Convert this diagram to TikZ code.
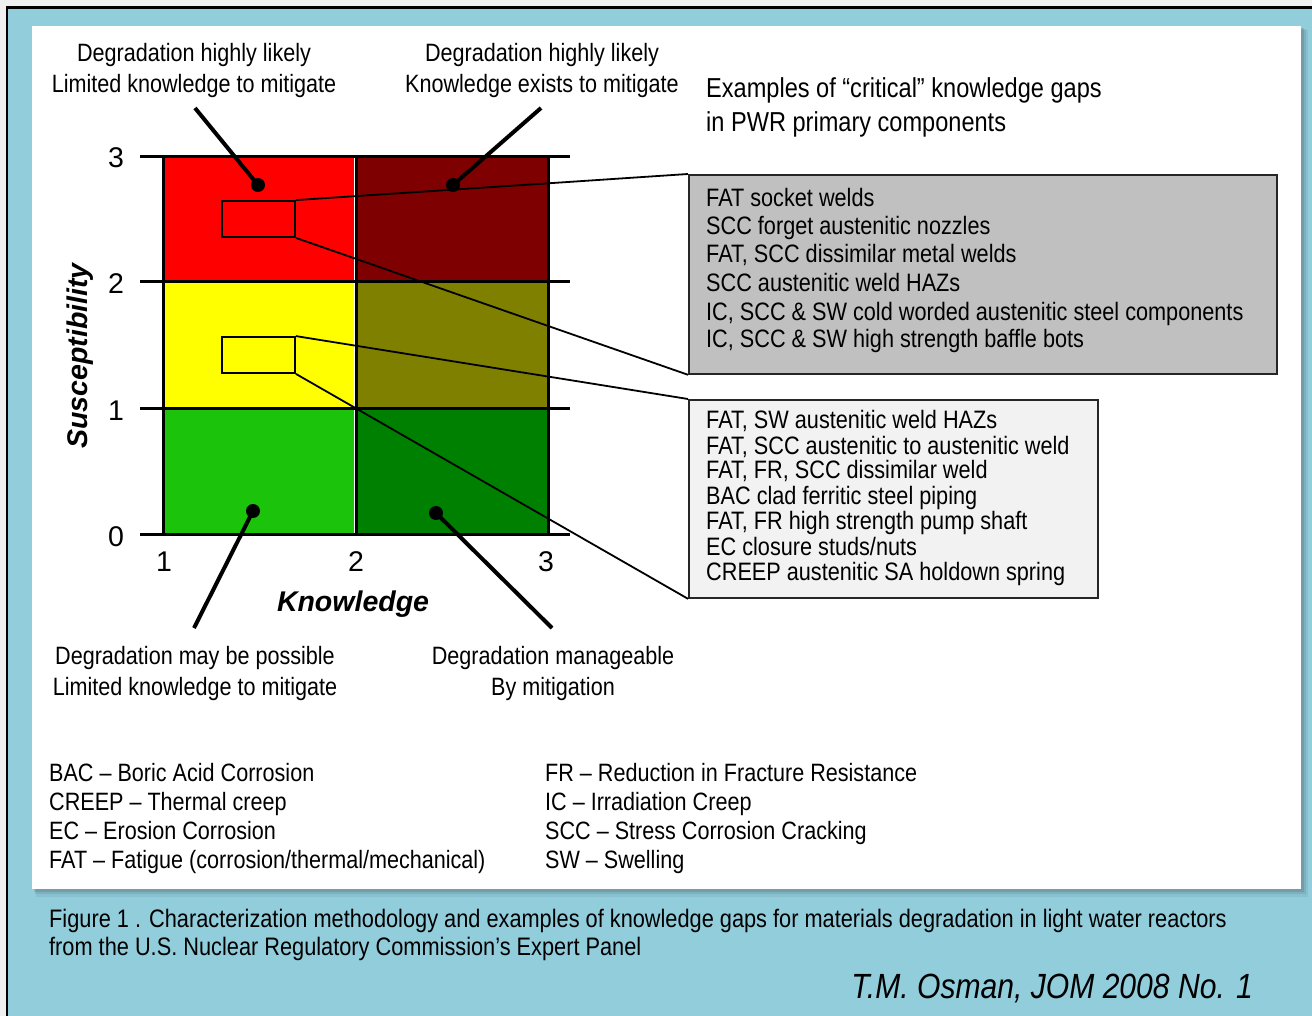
\documentclass[tikz,border=0pt]{standalone}
\usepackage{fontspec}
\setmainfont{Liberation Sans}[FakeStretch=0.86]
\newfontfamily\axfont{Liberation Sans}
\definecolor{bgblue}{HTML}{92CDDC}
\definecolor{cred}{HTML}{FF0000}
\definecolor{cdred}{HTML}{7F0000}
\definecolor{cyel}{HTML}{FFFF00}
\definecolor{colive}{HTML}{808000}
\definecolor{cgreen}{HTML}{1BC30A}
\definecolor{cdgreen}{HTML}{008000}
\definecolor{boxgray}{HTML}{C0C0C0}
\definecolor{boxlight}{HTML}{F2F2F2}
\begin{document}
\begin{tikzpicture}[x=1pt,y=-1pt,
  txt/.style={inner sep=0pt, font=\fontsize{25.1}{30}\selectfont},
  boxtxt/.style={inner sep=0pt, font=\fontsize{25.2}{28}\selectfont, anchor=base west},
  num/.style={inner sep=0pt, font=\axfont\fontsize{28.5}{30}\selectfont, anchor=base},
  axlab/.style={inner sep=0pt, font=\axfont\bfseries\itshape\fontsize{28.5}{30}\selectfont},
  grid/.style={line width=3pt},
  leader/.style={line width=4pt},
  callout/.style={line width=1.8pt},
  dotnode/.style={circle, fill=black, inner sep=0pt, minimum size=14pt},
  smallrect/.style={draw=black, line width=1.8pt, inner sep=0pt, minimum width=73pt, minimum height=36pt},
  listbox/.style={draw=black!85, line width=1.8pt, inner sep=0pt, anchor=north west}
]
\useasboundingbox (0,0) rectangle (1312,1016);
% frame and background
\fill[black!6] (0,0) rectangle (1312,1016);
\fill[bgblue] (8,9) rectangle (1312,1016);
\draw[line width=2.5pt] (7,1016) -- (7,7.5) -- (1312,7.5);
% panel shadow
\fill[black, opacity=0.06] (36,30) rectangle (1308,897);
\fill[black, opacity=0.08] (35,29) rectangle (1306,894);
\fill[black, opacity=0.10] (34,28) rectangle (1304,892);
\fill[white] (32,26) rectangle (1301,889);

% cells
\fill[cred] (163,157) rectangle (356,282);
\fill[cdred] (356,157) rectangle (548,282);
\fill[cyel] (163,282) rectangle (356,408);
\fill[colive] (356,282) rectangle (548,408);
\fill[cgreen] (163,408) rectangle (356,535);
\fill[cdgreen] (356,408) rectangle (548,535);
\draw[white, line width=0.8pt] (354,157) -- (354,535);
% grid
\draw[grid] (163,157) -- (163,535);
\draw[grid] (356.5,157) -- (356.5,535);
\draw[grid] (548,157) -- (548,535);
\foreach \yy in {157,282,408,534.5} \draw[grid] (140,\yy) -- (570,\yy);

% axis numbers
\node[num] (y3) at (116,168) {3};
\node[num] (y2) at (116,294) {2};
\node[num] (y1) at (116,420) {1};
\node[num] (y0) at (116,546) {0};
\node[num] (x1) at (164,571) {1};
\node[num] (x2) at (356,571) {2};
\node[num] (x3) at (546,571) {3};
\node[axlab, anchor=base] (xlab) at (353,611) {Knowledge};
\node[axlab, rotate=90] (ylab) at (80,356) {Susceptibility};

% list boxes
\node[listbox, fill=boxgray, minimum width=588pt, minimum height=199pt] (b1) at (688,174) {};
\node[listbox, fill=boxlight, minimum width=409pt, minimum height=198pt] (b2) at (688,399) {};

% small rectangles and callouts
\node[smallrect] (r1) at (258.5,219) {};
\node[smallrect] (r2) at (258.5,355) {};
\draw[callout] (r1.north east) -- (b1.north west);
\draw[callout] (r1.south east) -- (b1.south west);
\draw[callout] (r2.north east) -- (b2.north west);
\draw[callout] (r2.south east) -- (b2.south west);

% dots and leaders
\node[dotnode] (d1) at (258,185) {};
\node[dotnode] (d2) at (453,185) {};
\node[dotnode] (d3) at (253,511) {};
\node[dotnode] (d4) at (436,513) {};
\coordinate (e1) at (195,108);
\coordinate (e2) at (541,108);
\coordinate (e3) at (194,628);
\coordinate (e4) at (552,628);
\draw[leader] (e1) -- (d1.center);
\draw[leader] (e2) -- (d2.center);
\draw[leader] (e3) -- (d3.center);
\draw[leader] (e4) -- (d4.center);

% quadrant labels
\node[txt, anchor=base] (t1a) at (194,62) {Degradation highly likely};
\node[txt, anchor=base] (t1b) at (194,93) {Limited knowledge to mitigate};
\node[txt, anchor=base] (t2a) at (542,62) {Degradation highly likely};
\node[txt, anchor=base] (t2b) at (542,93) {Knowledge exists to mitigate};
\node[txt, anchor=base] (t3a) at (195,664) {Degradation may be possible};
\node[txt, anchor=base] (t3b) at (195,695) {Limited knowledge to mitigate};
\node[txt, anchor=base] (t4a) at (553,664) {Degradation manageable};
\node[txt, anchor=base] (t4b) at (553,695) {By mitigation};

% examples heading
\node[inner sep=0pt, font=\fontsize{27.4}{34}\selectfont, anchor=base west] (ex1) at (706,98) {Examples of “critical” knowledge gaps};
\node[inner sep=0pt, font=\fontsize{27.4}{34}\selectfont, anchor=base west] (ex2) at (706,132) {in PWR primary components};

% gray box text
\node[boxtxt] (g1) at (706,207) {FAT socket welds};
\node[boxtxt] (g2) at (706,235) {SCC forget austenitic nozzles};
\node[boxtxt] (g3) at (706,263) {FAT, SCC dissimilar metal welds};
\node[boxtxt] (g4) at (706,292) {SCC austenitic weld HAZs};
\node[boxtxt] (g5) at (706,321) {IC, SCC \& SW cold worded austenitic steel components};
\node[boxtxt] (g6) at (706,348) {IC, SCC \& SW high strength baffle bots};

% light box text
\node[boxtxt] (h1) at (706,428) {FAT, SW austenitic weld HAZs};
\node[boxtxt] (h2) at (706,454) {FAT, SCC austenitic to austenitic weld};
\node[boxtxt] (h3) at (706,478) {FAT, FR, SCC dissimilar weld};
\node[boxtxt] (h4) at (706,504) {BAC clad ferritic steel piping};
\node[boxtxt] (h5) at (706,529) {FAT, FR high strength pump shaft};
\node[boxtxt] (h6) at (706,555) {EC closure studs/nuts};
\node[boxtxt] (h7) at (706,580) {CREEP austenitic SA holdown spring};

% legend
\node[txt, anchor=base west] (la) at (49,781) {BAC – Boric Acid Corrosion};
\node[txt, anchor=base west] (lb) at (49,810) {CREEP – Thermal creep};
\node[txt, anchor=base west] (lc) at (49,839) {EC – Erosion Corrosion};
\node[txt, anchor=base west] (ld) at (49,868) {FAT – Fatigue (corrosion/thermal/mechanical)};
\node[txt, anchor=base west] (le) at (545,781) {FR – Reduction in Fracture Resistance};
\node[txt, anchor=base west] (lf) at (545,810) {IC – Irradiation Creep};
\node[txt, anchor=base west] (lg) at (545,839) {SCC – Stress Corrosion Cracking};
\node[txt, anchor=base west] (lh) at (545,868) {SW – Swelling};

% caption
\node[txt, anchor=base west, font=\fontsize{25.3}{30}\selectfont] (c1) at (49,927) {Figure 1 . Characterization methodology and examples of knowledge gaps for materials degradation in light water reactors};
\node[txt, anchor=base west, font=\fontsize{25.3}{30}\selectfont] (c2) at (49,955) {from the U.S. Nuclear Regulatory Commission’s Expert Panel};
\node[inner sep=0pt, font=\itshape\fontsize{35}{40}\selectfont, anchor=base east] (cite) at (1253,998) {T.M. Osman, JOM 2008 No. 1};
\end{tikzpicture}
\end{document}
